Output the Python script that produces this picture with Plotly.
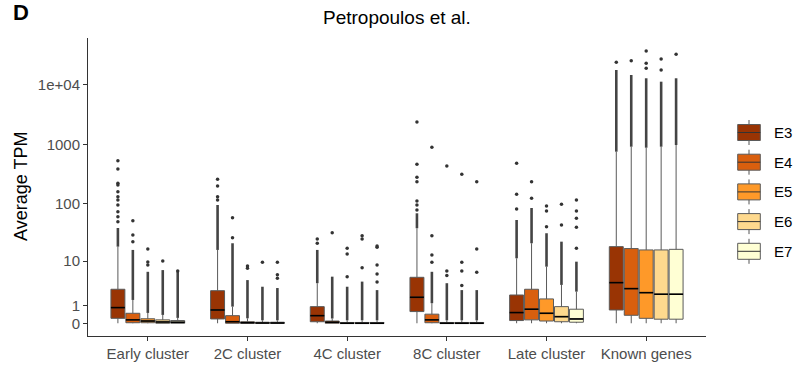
import numpy as np
import plotly.graph_objects as go

categories = ["Early cluster", "2C cluster", "4C cluster", "8C cluster", "Late cluster", "Known genes"]
stages = ["E3", "E4", "E5", "E6", "E7"]
stage_colors = ["#993404", "#D95F0E", "#FE9929", "#FED98E", "#FFFFD4"]

y_tick_values = [0, 1, 10, 100, 1000, 10000]
y_tick_labels = ["0", "1", "10", "100", "1000", "1e+04"]

# Box statistics (Average TPM), rows = categories, columns = E3..E7
lower = [
    [0, 0, 0, 0, 0],
    [0, 0, 0, 0, 0],
    [0, 0, 0, 0, 0],
    [0, 0, 0, 0, 0],
    [0, 0, 0, 0, 0],
    [0, 0, 0, 0, 0],
]
q1 = [
    [0.21, 0.02, 0.02, 0.0, 0.0],
    [0.18, 0.0, 0.0, 0.0, 0.0],
    [0.06, 0.0, 0.0, 0.0, 0.0],
    [0.57, 0.02, 0.0, 0.0, 0.0],
    [0.11, 0.14, 0.09, 0.06, 0.04],
    [0.67, 0.36, 0.21, 0.17, 0.17],
]
median = [
    [0.83, 0.14, 0.09, 0.05, 0.04],
    [0.67, 0.06, 0.02, 0.01, 0.01],
    [0.34, 0.04, 0.0, 0.0, 0.0],
    [1.73, 0.14, 0.0, 0.0, 0.0],
    [0.51, 0.72, 0.47, 0.29, 0.18],
    [3.8, 2.81, 2.26, 2.07, 2.07],
]
q3 = [
    [2.72, 0.47, 0.19, 0.14, 0.11],
    [2.52, 0.34, 0.06, 0.04, 0.04],
    [0.90, 0.09, 0.03, 0.03, 0.03],
    [4.9, 0.42, 0.03, 0.03, 0.03],
    [1.98, 2.72, 1.56, 0.90, 0.72],
    [18.3, 16.9, 16.0, 16.0, 16.4],
]
upper = [
    [18.3, 1.46, 0.49, 0.38, 0.23],
    [16, 0.90, 0.21, 0.12, 0.12],
    [3.7, 0.2, 0.12, 0.12, 0.12],
    [38.3, 1.17, 0.12, 0.12, 0.12],
    [11.3, 21, 7.9, 3.4, 2.39],
    [756, 917, 882, 917, 980],
]
# top of the dense run of outliers above each whisker
dense_top = [
    [38.7, 16, 6.3, 6.8, 6.3],
    [95.6, 21, 4.3, 3.1, 2.9],
    [16, 5.05, 3.1, 4.0, 2.6],
    [69, 6.3, 3.7, 2.6, 2.6],
    [53.1, 85, 31.4, 22.4, 9.8],
    [17780, 14660, 12910, 11320, 12910],
]
# sparse outliers above the dense run
outliers = [
    [[49.7, 60.5, 73.5, 95.6, 116, 132, 160, 208, 222, 387, 534], [22.4, 29.3, 51.6], [8.5, 9.7, 16.6], [10.1], [6.5]],
    [[116, 132, 200, 260], [26.3, 58.1], [7.4, 8.1], [9.6], [4.7, 5.5, 9.6]],
    [[21, 25], [32.1], [5.05, 13.5, 17.1], [7.5, 25, 28.5], [3.9, 5.7, 8.5, 17.8, 18.8]],
    [[78.6, 95.6, 111.7, 236.6, 280.6, 464, 2385], [9.6, 13, 28.5, 896], [5.3, 6.5, 435], [3.3, 6.5, 9.6, 315], [6.2, 16.6, 236.6]],
    [[81.8, 145, 483], [124, 236.6], [40.8, 75.6, 92], [43.6, 98.3], [17.1, 39.8, 56.8, 75.6, 116]],
    [[23930], [25470], [19010, 23030, 37070], [17780, 27210], [32600]],
]


def tr(v):
    return float(np.log10(1.0 + np.asarray(v, dtype=float)))


DODGE = 0.15
BOXW = 0.14
FONT = "Liberation Sans, Arial, sans-serif"

fig = go.Figure()

med_x, med_y = [], []
dense_x, dense_y = [], []
out_x, out_y = [], []

for ci, cat in enumerate(categories):
    for si, st in enumerate(stages):
        pos = ci + 1 + (si - 2) * DODGE
        fig.add_trace(go.Box(
            x=[pos],
            lowerfence=[tr(lower[ci][si])],
            q1=[tr(q1[ci][si])],
            median=[tr(median[ci][si])],
            q3=[tr(q3[ci][si])],
            upperfence=[tr(upper[ci][si])],
            width=BOXW,
            fillcolor=stage_colors[si],
            line=dict(color="#5a5a5a", width=1),
            whiskerwidth=0,
            boxpoints=False,
            showlegend=False,
            hoverinfo="skip",
        ))
        med_x += [pos - BOXW / 2, pos + BOXW / 2, None]
        med_y += [tr(median[ci][si])] * 2 + [None]
        if dense_top[ci][si] > upper[ci][si]:
            dense_x += [pos, pos, None]
            dense_y += [tr(upper[ci][si]), tr(dense_top[ci][si]), None]
        for o in outliers[ci][si]:
            out_x.append(pos)
            out_y.append(tr(o))

fig.add_trace(go.Scatter(x=dense_x, y=dense_y, mode="lines",
                         line=dict(color="#444444", width=2.6),
                         showlegend=False, hoverinfo="skip"))
fig.add_trace(go.Scatter(x=out_x, y=out_y, mode="markers",
                         marker=dict(color="#333333", size=3.5),
                         showlegend=False, hoverinfo="skip"))
fig.add_trace(go.Scatter(x=med_x, y=med_y, mode="lines",
                         line=dict(color="#000000", width=1.6),
                         showlegend=False, hoverinfo="skip"))

# layout geometry in pixels
W, H = 795, 365
L, R, T, B = 88, 706, 38, 336


def pxx(p):
    return (p - L) / (R - L)


def pxy(p):
    return (B - p) / (B - T)


shapes = []
annotations = []
for si, st in enumerate(stages):
    cy = 132.5 + 29.7 * si
    shapes.append(dict(type="line", xref="paper", yref="paper",
                       x0=pxx(749), x1=pxx(749), y0=pxy(cy - 12.5), y1=pxy(cy + 12.5),
                       line=dict(color="#555555", width=1)))
    shapes.append(dict(type="rect", xref="paper", yref="paper",
                       x0=pxx(737.7), x1=pxx(760.3), y0=pxy(cy - 8), y1=pxy(cy + 8),
                       fillcolor=stage_colors[si], line=dict(color="#5a5a5a", width=1)))
    shapes.append(dict(type="line", xref="paper", yref="paper",
                       x0=pxx(737.7), x1=pxx(760.3), y0=pxy(cy), y1=pxy(cy),
                       line=dict(color="#333333", width=1)))
    annotations.append(dict(text=st, xref="paper", yref="paper",
                            x=pxx(772), y=pxy(cy), xanchor="left", yanchor="middle",
                            showarrow=False, font=dict(size=15, color="#000000", family=FONT)))

annotations.append(dict(text="<b>D</b>", xref="paper", yref="paper",
                        x=pxx(11), y=pxy(12), xanchor="left", yanchor="middle",
                        showarrow=False, font=dict(size=22, color="#000000", family=FONT)))
annotations.append(dict(text="Petropoulos et al.", xref="paper", yref="paper",
                        x=0.5, y=pxy(17), xanchor="center", yanchor="middle",
                        showarrow=False, font=dict(size=19, color="#000000", family=FONT)))
annotations.append(dict(text="Average TPM", xref="paper", yref="paper",
                        x=pxx(21), y=pxy(187), xanchor="center", yanchor="middle",
                        textangle=-90, showarrow=False,
                        font=dict(size=18, color="#000000", family=FONT)))

fig.update_layout(
    width=W, height=H,
    margin=dict(l=L, r=W - R, t=T, b=H - B, pad=0),
    paper_bgcolor="white", plot_bgcolor="white",
    font=dict(family=FONT),
    shapes=shapes,
    annotations=annotations,
    xaxis=dict(
        range=[0.4, 6.6],
        automargin=False,
        tickvals=list(range(1, len(categories) + 1)),
        ticktext=categories,
        showgrid=False, zeroline=False,
        showline=True, linecolor="#333333", linewidth=1,
        ticks="outside", ticklen=4, tickcolor="#333333",
        tickfont=dict(size=15, color="#4d4d4d", family=FONT),
    ),
    yaxis=dict(
        range=[-0.214, 4.787],
        automargin=False,
        tickvals=[tr(v) for v in y_tick_values],
        ticktext=y_tick_labels,
        showgrid=False, zeroline=False,
        showline=True, linecolor="#333333", linewidth=1,
        ticks="outside", ticklen=4, tickcolor="#333333",
        tickfont=dict(size=15, color="#4d4d4d", family=FONT),
    ),
)

fig.write_html("out.html")
